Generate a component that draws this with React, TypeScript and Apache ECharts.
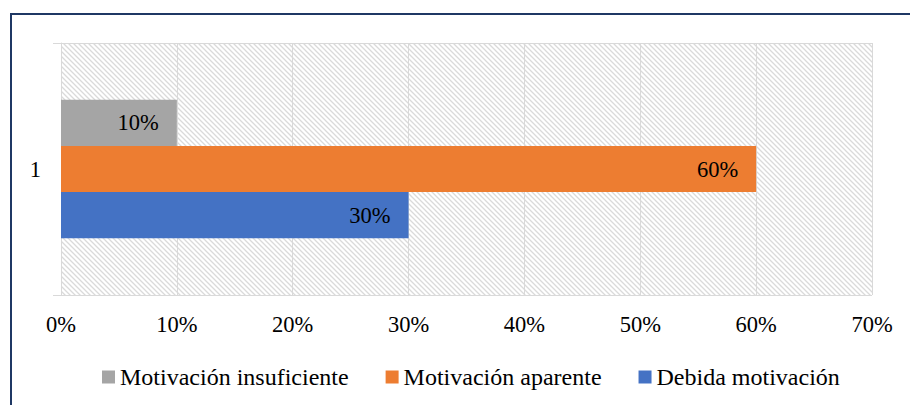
import React, { useEffect, useRef } from "react";
import * as echarts from "echarts";

const categories = ["1"];
const seriesNames = ["Motivación insuficiente", "Motivación aparente", "Debida motivación"];
const seriesValues = [[0.1], [0.6], [0.3]];
const seriesColors = ["#a5a5a5", "#ed7d31", "#4472c4"];
const legendOrder = ["Motivación insuficiente", "Motivación aparente", "Debida motivación"];
const xMax = 0.7;
const xStep = 0.1;

const FONT = "'Liberation Serif', 'Times New Roman', serif";

function makeHatch(): HTMLCanvasElement {
  const n = 5;
  const c = document.createElement("canvas");
  c.width = n;
  c.height = n;
  const ctx = c.getContext("2d")!;
  ctx.fillStyle = "#ffffff";
  ctx.fillRect(0, 0, n, n);
  ctx.strokeStyle = "#dadada";
  ctx.lineWidth = 1.3;
  ctx.beginPath();
  ctx.moveTo(-1, -1);
  ctx.lineTo(n + 1, n + 1);
  ctx.moveTo(-1 - n, -1);
  ctx.lineTo(1, n + 1);
  ctx.moveTo(n - 1, -1);
  ctx.lineTo(2 * n + 1, n + 1);
  ctx.stroke();
  return c;
}

export default function App() {
  const ref = useRef<HTMLDivElement>(null);
  useEffect(() => {
    document.body.style.margin = "0";
    const chart = echarts.init(ref.current!, null, { renderer: "svg" });
    const hatch = makeHatch();
    chart.setOption({
      animation: false,
      backgroundColor: "#ffffff",
      textStyle: { fontFamily: FONT },
      grid: {
        left: 61,
        top: 43,
        right: 38,
        bottom: 110,
        show: true,
        borderWidth: 0,
        backgroundColor: { image: hatch, repeat: "repeat" } as any,
      },
      xAxis: {
        type: "value",
        min: 0,
        max: xMax,
        interval: xStep,
        axisLine: { show: false },
        axisTick: { show: false },
        splitLine: { show: true, lineStyle: { color: "#d9d9d9", width: 1 } },
        axisLabel: {
          margin: 18,
          color: "#000",
          fontFamily: FONT,
          fontSize: 22.5,
          formatter: (v: number) => Math.round(v * 100) + "%",
        },
      },
      yAxis: {
        type: "category",
        data: categories,
        axisLine: { show: true, lineStyle: { color: "#d9d9d9", width: 1 } },
        axisTick: { show: true, length: 8, lineStyle: { color: "#d9d9d9" } },
        splitLine: { show: true, lineStyle: { color: "#d9d9d9", width: 1 } },
        axisLabel: { margin: 20, color: "#000", fontFamily: FONT, fontSize: 22.5 },
      },
      legend: {
        data: legendOrder,
        left: 97,
        top: 360,
        itemWidth: 13,
        itemHeight: 13,
        itemGap: 37,
        icon: "rect",
        textStyle: { color: "#000", fontFamily: FONT, fontSize: 24 },
      },
      series: seriesNames.map((name, i) => ({
        name,
        type: "bar",
        data: seriesValues[i],
        barGap: "0%",
        barCategoryGap: "45%",
        itemStyle: { color: seriesColors[i] },
        label: {
          show: true,
          position: "insideRight",
          distance: 18,
          color: "#000",
          fontFamily: FONT,
          fontSize: 22.5,
          formatter: (p: any) => Math.round(p.value * 100) + "%",
        },
      })),
      graphic: [
        { type: "line", shape: { x1: 10, y1: 14, x2: 910, y2: 14 }, style: { stroke: "#1f3864", lineWidth: 2 } },
        { type: "line", shape: { x1: 11, y1: 13, x2: 11, y2: 405 }, style: { stroke: "#1f3864", lineWidth: 2 } },
      ],
    });
    return () => chart.dispose();
  }, []);
  return <div ref={ref} style={{ width: 910, height: 405 }} />;
}
